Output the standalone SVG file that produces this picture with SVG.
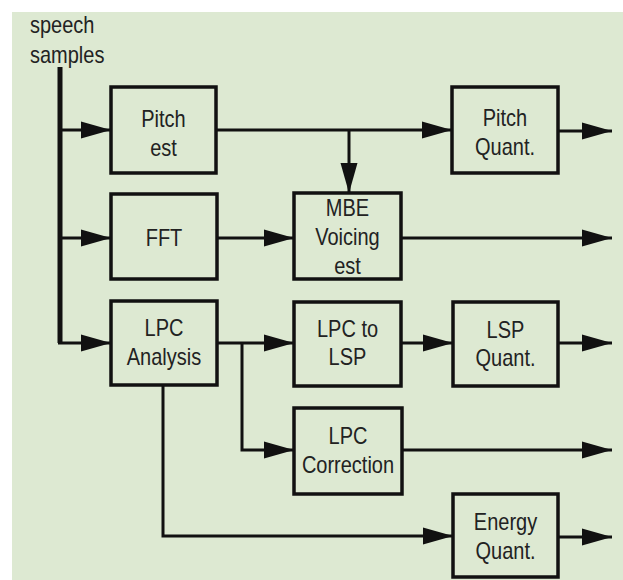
<svg xmlns="http://www.w3.org/2000/svg" width="623" height="580" viewBox="0 0 623 580">
<style>
.box{fill:none;stroke:#111;stroke-width:3.5}
.ln{fill:none;stroke:#111;stroke-width:3}
.t{font-family:"Liberation Sans",Arial,sans-serif;font-size:20px;fill:#222;text-anchor:middle}
.tl{font-family:"Liberation Sans",Arial,sans-serif;font-size:20px;fill:#222}
</style>
<defs>
<marker id="ah" markerUnits="userSpaceOnUse" markerWidth="30" markerHeight="17" refX="30" refY="8.5" orient="auto" overflow="visible">
<path d="M0,0 L30,8.5 L0,17 Z" fill="#111"/>
</marker>
</defs>
<rect x="0" y="0" width="623" height="580" fill="#ffffff"/>
<rect x="12" y="12" width="611" height="568" fill="#dde9d2"/>
<g id="input">
<text class="tl" transform="translate(30,33) scale(1,1.17)">speech</text>
<text class="tl" transform="translate(30,63) scale(1,1.17)">samples</text>
</g>
<g id="connectors">
<path class="ln" d="M60,67 V343" style="stroke-width:5"/>
<path class="ln" d="M60,130 H111" marker-end="url(#ah)"/>
<path class="ln" d="M60,238 H111" marker-end="url(#ah)"/>
<path class="ln" d="M58,343 H111" marker-end="url(#ah)"/>
<path class="ln" d="M216,130 H452" marker-end="url(#ah)"/>
<path class="ln" d="M349,130 V193" marker-end="url(#ah)"/>
<path class="ln" d="M558,131 H612" marker-end="url(#ah)"/>
<path class="ln" d="M217,238 H294" marker-end="url(#ah)"/>
<path class="ln" d="M401,238 H612" marker-end="url(#ah)"/>
<path class="ln" d="M217,343 H294" marker-end="url(#ah)"/>
<path class="ln" d="M401,343 H453" marker-end="url(#ah)"/>
<path class="ln" d="M558,343 H612" marker-end="url(#ah)"/>
<path class="ln" d="M242,343 V450 H294" marker-end="url(#ah)"/>
<path class="ln" d="M402,450 H612" marker-end="url(#ah)"/>
<path class="ln" d="M163,385 V536 H453" marker-end="url(#ah)"/>
<path class="ln" d="M558,537 H612" marker-end="url(#ah)"/>
</g>
<g id="pitch-est">
<rect class="box" x="111" y="87" width="105" height="86"/>
<text class="t" transform="translate(163.5,127) scale(1,1.17)">Pitch</text>
<text class="t" transform="translate(163.5,156) scale(1,1.17)">est</text>
</g>
<g id="pitch-quant">
<rect class="box" x="452" y="87" width="106" height="86"/>
<text class="t" transform="translate(505,126) scale(1,1.17)">Pitch</text>
<text class="t" transform="translate(505,155) scale(1,1.17)">Quant.</text>
</g>
<g id="fft">
<rect class="box" x="111" y="194" width="106" height="85"/>
<text class="t" transform="translate(164,246) scale(1,1.17)">FFT</text>
</g>
<g id="mbe">
<rect class="box" x="294" y="193" width="107" height="86"/>
<text class="t" transform="translate(347.5,216) scale(1,1.17)">MBE</text>
<text class="t" transform="translate(347.5,245) scale(1,1.17)">Voicing</text>
<text class="t" transform="translate(347.5,274) scale(1,1.17)">est</text>
</g>
<g id="lpc-analysis">
<rect class="box" x="111" y="301" width="106" height="84"/>
<text class="t" transform="translate(164,336) scale(1,1.17)">LPC</text>
<text class="t" transform="translate(164,365) scale(1,1.17)">Analysis</text>
</g>
<g id="lpc-to-lsp">
<rect class="box" x="294" y="302" width="107" height="84"/>
<text class="t" transform="translate(347.5,337) scale(1,1.17)">LPC to</text>
<text class="t" transform="translate(347.5,365) scale(1,1.17)">LSP</text>
</g>
<g id="lsp-quant">
<rect class="box" x="453" y="302" width="105" height="84"/>
<text class="t" transform="translate(505.5,338) scale(1,1.17)">LSP</text>
<text class="t" transform="translate(505.5,366) scale(1,1.17)">Quant.</text>
</g>
<g id="lpc-correction">
<rect class="box" x="294" y="408" width="108" height="86"/>
<text class="t" transform="translate(348,444) scale(1,1.17)">LPC</text>
<text class="t" transform="translate(348,473) scale(1,1.17)">Correction</text>
</g>
<g id="energy-quant">
<rect class="box" x="453" y="494" width="105" height="83"/>
<text class="t" transform="translate(505.5,530) scale(1,1.17)">Energy</text>
<text class="t" transform="translate(505.5,559) scale(1,1.17)">Quant.</text>
</g>
</svg>
